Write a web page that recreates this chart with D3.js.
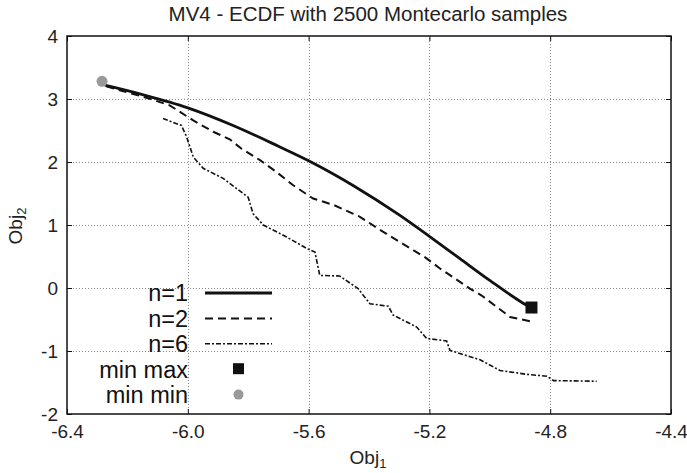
<!DOCTYPE html>
<html>
<head>
<meta charset="utf-8">
<script src="https://cdn.jsdelivr.net/npm/d3@7"></script>
<style>
  body { margin: 0; background: #fff; }
  svg { display: block; font-family: "Liberation Sans", Arial, sans-serif; }
</style>
</head>
<body>
<svg></svg>
<script>
// data (Obj1, Obj2)
const n1 = [[-6.275, 3.22], [-6.15, 3.07], [-6.0, 2.86], [-5.85, 2.58], [-5.7, 2.25], [-5.6, 2.02],
    [-5.45, 1.62], [-5.3, 1.16], [-5.2, 0.82], [-5.1, 0.47], [-5.0, 0.12], [-4.9, -0.21], [-4.865, -0.31]];
const n2 = [[-6.27, 3.2], [-6.137, 3.02], [-6.06, 2.9], [-5.982, 2.66], [-5.916, 2.48], [-5.861, 2.36],
    [-5.822, 2.21], [-5.761, 2.03], [-5.706, 1.84], [-5.651, 1.63], [-5.585, 1.42], [-5.518, 1.32],
    [-5.43, 1.13], [-5.369, 0.94], [-5.342, 0.86], [-5.264, 0.63], [-5.215, 0.49], [-5.165, 0.31],
    [-5.121, 0.17], [-5.066, -0.01], [-5.027, -0.12], [-4.977, -0.3], [-4.933, -0.46], [-4.856, -0.54]];
const n6 = [[-6.082, 2.69], [-6.021, 2.58], [-6.004, 2.4], [-5.982, 2.08], [-5.949, 1.9], [-5.883, 1.74],
    [-5.839, 1.58], [-5.8, 1.44], [-5.784, 1.18], [-5.75, 1.0], [-5.673, 0.81], [-5.607, 0.63],
    [-5.579, 0.57], [-5.563, 0.2], [-5.497, 0.19], [-5.436, -0.01], [-5.397, -0.25], [-5.336, -0.29],
    [-5.32, -0.43], [-5.242, -0.62], [-5.209, -0.8], [-5.143, -0.84], [-5.132, -0.99], [-5.032, -1.14],
    [-4.966, -1.31], [-4.878, -1.37], [-4.811, -1.4], [-4.789, -1.47], [-4.646, -1.48]];
const minMax = [-4.862, -0.31];
const minMin = [-6.284, 3.28];

const xTicks = [-6.4, -6.0, -5.6, -5.2, -4.8, -4.4];
const yTicks = [-2, -1, 0, 1, 2, 3, 4];
const legendNames = ["n=1", "n=2", "n=6", "min max", "min min"];

const width = 687, height = 473;
const margin = { top: 36, right: 16, bottom: 59, left: 67 };

const svg = d3.select("svg")
    .attr("width", width)
    .attr("height", height)
    .attr("viewBox", [0, 0, width, height]);

const x = d3.scaleLinear().domain([-6.4, -4.4]).range([margin.left, width - margin.right]);
const y = d3.scaleLinear().domain([-2, 4]).range([height - margin.bottom, margin.top]);

// grid
const grid = svg.append("g")
    .attr("stroke", "#888")
    .attr("stroke-width", 1)
    .attr("stroke-dasharray", "1,2");
grid.selectAll(".gx")
    .data(xTicks.slice(1, -1))
    .join("line")
    .attr("x1", d => Math.round(x(d)) + 0.5).attr("x2", d => Math.round(x(d)) + 0.5)
    .attr("y1", y(-2)).attr("y2", y(4));
grid.selectAll(".gy")
    .data(yTicks.slice(1, -1))
    .join("line")
    .attr("y1", d => Math.round(y(d)) + 0.5).attr("y2", d => Math.round(y(d)) + 0.5)
    .attr("x1", x(-6.4)).attr("x2", x(-4.4));

// axes (ticks inward, mirrored) - plain hyphen like gnuplot
const axB = svg.append("g")
    .attr("transform", `translate(0,${y(-2)})`)
    .call(d3.axisBottom(x).tickValues(xTicks).tickFormat(d => d.toFixed(1)).tickSizeInner(-5).tickSizeOuter(0).tickPadding(11));
const axT = svg.append("g")
    .attr("transform", `translate(0,${y(4)})`)
    .call(d3.axisTop(x).tickValues(xTicks).tickFormat("").tickSizeInner(-5).tickSizeOuter(0));
const axL = svg.append("g")
    .attr("transform", `translate(${x(-6.4)},0)`)
    .call(d3.axisLeft(y).tickValues(yTicks).tickFormat(d => String(d)).tickSizeInner(-5).tickSizeOuter(0).tickPadding(9));
const axR = svg.append("g")
    .attr("transform", `translate(${x(-4.4)},0)`)
    .call(d3.axisRight(y).tickValues(yTicks).tickFormat("").tickSizeInner(-5).tickSizeOuter(0));
for (const a of [axB, axT, axL, axR]) {
    a.select(".domain").remove();
    a.selectAll("line").attr("stroke", "#111").attr("stroke-width", 1);
    a.selectAll("text").attr("font-size", 19).attr("fill", "#222").attr("font-family", null);
}
axB.selectAll("text").attr("dy", "0.71em");
axL.selectAll("text").attr("dy", "0.36em");

svg.append("rect")
    .attr("x", x(-6.4)).attr("y", y(4))
    .attr("width", x(-4.4) - x(-6.4)).attr("height", y(-2) - y(4))
    .attr("fill", "none").attr("stroke", "#111").attr("stroke-width", 1.5);

// curves
const styles = [
    { data: n1, w: 2.8, dash: null, curve: d3.curveMonotoneX },
    { data: n2, w: 2.0, dash: "8,5", curve: d3.curveLinear },
    { data: n6, w: 1.6, dash: "5,2,2,2", curve: d3.curveLinear }
];
svg.append("g")
    .selectAll("path")
    .data(styles)
    .join("path")
    .attr("d", d => d3.line().x(p => x(p[0])).y(p => y(p[1])).curve(d.curve)(d.data))
    .attr("fill", "none")
    .attr("stroke", "#111")
    .attr("stroke-width", d => d.w)
    .attr("stroke-dasharray", d => d.dash);

svg.append("rect")
    .attr("x", x(minMax[0]) - 6).attr("y", y(minMax[1]) - 6)
    .attr("width", 12).attr("height", 12)
    .attr("fill", "#111");
svg.append("circle")
    .attr("cx", x(minMin[0])).attr("cy", y(minMin[1]))
    .attr("r", 5.5)
    .attr("fill", "#999");

// legend
const legend = svg.append("g").attr("transform", "translate(188,293)");
const row = legend.selectAll("g")
    .data(legendNames)
    .join("g")
    .attr("transform", (d, i) => `translate(0,${i * 25.4})`);
row.append("text")
    .attr("text-anchor", "end")
    .attr("dy", "0.36em")
    .attr("font-size", 23.5)
    .attr("fill", "#111")
    .text(d => d);
row.filter((d, i) => i < 3)
    .append("line")
    .attr("x1", 17).attr("x2", 84)
    .attr("stroke", "#111")
    .attr("stroke-width", (d, i) => styles[i].w)
    .attr("stroke-dasharray", (d, i) => styles[i].dash);
row.filter((d, i) => i === 3)
    .append("rect")
    .attr("x", 45).attr("y", -6).attr("width", 11).attr("height", 11)
    .attr("fill", "#111");
row.filter((d, i) => i === 4)
    .append("circle")
    .attr("cx", 50.5).attr("r", 5)
    .attr("fill", "#999");

// titles
svg.append("text")
    .attr("x", 368).attr("y", 21)
    .attr("text-anchor", "middle")
    .attr("font-size", 20.5)
    .attr("fill", "#222")
    .text("MV4 - ECDF with 2500 Montecarlo samples");

const xl = svg.append("text")
    .attr("x", 368).attr("y", 464)
    .attr("text-anchor", "middle")
    .attr("font-size", 19)
    .attr("fill", "#222");
xl.append("tspan").text("Obj");
xl.append("tspan").attr("font-size", 13).attr("dy", 4).text("1");

const yl = svg.append("text")
    .attr("transform", "translate(22,226) rotate(-90)")
    .attr("text-anchor", "middle")
    .attr("font-size", 19)
    .attr("fill", "#222");
yl.append("tspan").text("Obj");
yl.append("tspan").attr("font-size", 13).attr("dy", 4).text("2");
</script>
</body>
</html>
